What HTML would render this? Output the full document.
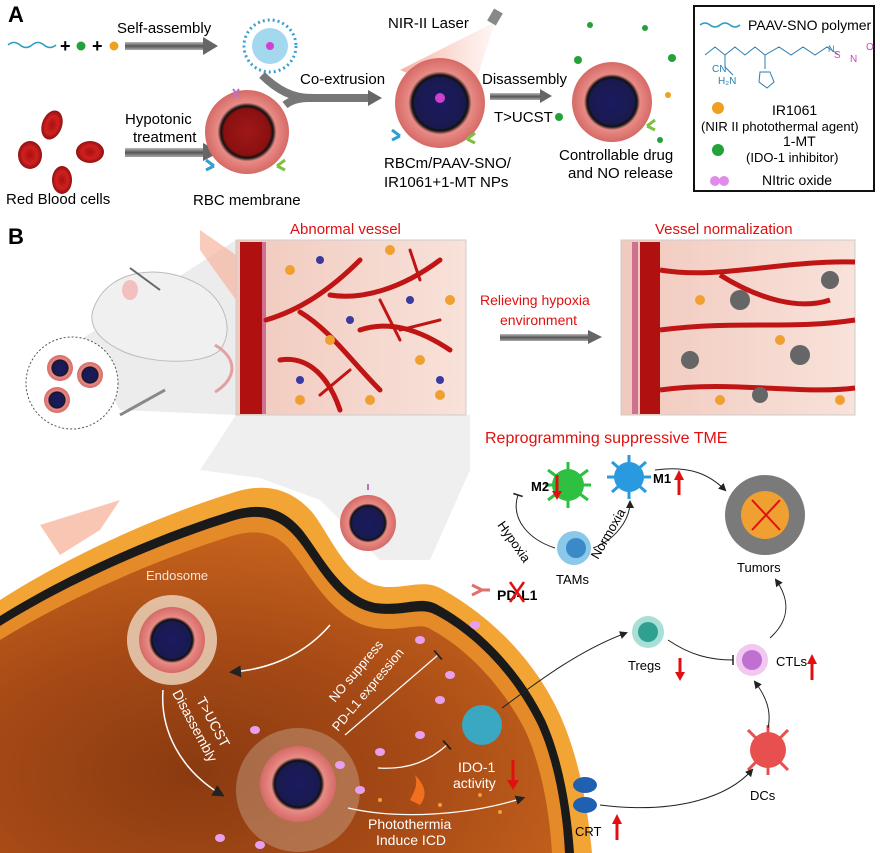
<!DOCTYPE html>
<html><head><meta charset="utf-8"><style>
html,body{margin:0;padding:0;background:#fff;}
svg{display:block;font-family:"Liberation Sans",Arial,sans-serif;}
</style></head><body>
<svg width="880" height="853" viewBox="0 0 880 853" xmlns="http://www.w3.org/2000/svg">
<defs>
<radialGradient id="cellg" cx="0.35" cy="0.75" r="0.8">
<stop offset="0" stop-color="#8a3a10"/><stop offset="0.5" stop-color="#a64a16"/><stop offset="1" stop-color="#c9651d"/>
</radialGradient>
<radialGradient id="np" cx="0.5" cy="0.5" r="0.5">
<stop offset="0" stop-color="#1a1a60"/><stop offset="0.55" stop-color="#1a1a50"/><stop offset="0.62" stop-color="#111"/><stop offset="0.7" stop-color="#e98b86"/><stop offset="1" stop-color="#d56a66"/>
</radialGradient>
<radialGradient id="rbcm" cx="0.5" cy="0.5" r="0.5">
<stop offset="0" stop-color="#a01818"/><stop offset="0.55" stop-color="#8a1010"/><stop offset="0.62" stop-color="#111"/><stop offset="0.7" stop-color="#e98b86"/><stop offset="1" stop-color="#d56a66"/>
</radialGradient>
<radialGradient id="rbc" cx="0.5" cy="0.5" r="0.5">
<stop offset="0" stop-color="#a81010"/><stop offset="0.6" stop-color="#d02020"/><stop offset="1" stop-color="#901010"/>
</radialGradient>
<linearGradient id="arr" x1="0" x2="0" y1="0" y2="1"><stop offset="0" stop-color="#bbb"/><stop offset="0.5" stop-color="#555"/><stop offset="1" stop-color="#aaa"/></linearGradient>
<linearGradient id="vess" x1="0" x2="1"><stop offset="0" stop-color="#f1c9bd"/><stop offset="1" stop-color="#f8e2da"/></linearGradient>
<linearGradient id="beam" x1="0" x2="1" y1="0" y2="0"><stop offset="0" stop-color="#f06a50" stop-opacity="0.9"/><stop offset="1" stop-color="#f8b0a0" stop-opacity="0.2"/></linearGradient>
<marker id="ah" markerWidth="8" markerHeight="8" refX="6" refY="4" orient="auto"><path d="M0,0 L8,4 L0,8z" fill="#222"/></marker>
<marker id="tb" markerWidth="4" markerHeight="10" refX="2" refY="5" orient="auto"><path d="M2,0 L2,10" stroke="#222" stroke-width="1.5"/></marker>
</defs>

<!-- Panel A -->
<text x="8" y="22" font-size="22" font-weight="bold">A</text>
<path d="M8,45 q6,-5 12,0 t12,0 t12,0 t12,0" fill="none" stroke="#2a9fc0" stroke-width="1.5"/>
<text x="60" y="52" font-size="18" font-weight="bold">+</text>
<circle cx="81" cy="46" r="4.5" fill="#22a33a"/>
<text x="92" y="52" font-size="18" font-weight="bold">+</text>
<circle cx="114" cy="46" r="4.5" fill="#f0a020"/>
<text x="117" y="33" font-size="15">Self-assembly</text>
<rect x="125" y="42" width="80" height="8" fill="url(#arr)"/><path d="M203,37 L218,46 L203,55z" fill="#666"/>
<circle cx="270" cy="46" r="26" fill="none" stroke="#3aa0d0" stroke-width="3" stroke-dasharray="2 3"/>
<circle cx="270" cy="46" r="18" fill="#7cc8e8" opacity="0.7"/><circle cx="270" cy="46" r="4" fill="#d040d0"/>
<ellipse cx="52" cy="125" rx="10" ry="15" fill="url(#rbc)" transform="rotate(20 52 125)"/>
<ellipse cx="30" cy="155" rx="12" ry="14" fill="url(#rbc)"/>
<ellipse cx="90" cy="152" rx="14" ry="11" fill="url(#rbc)"/>
<ellipse cx="62" cy="180" rx="10" ry="14" fill="url(#rbc)"/>
<text x="6" y="204" font-size="15">Red Blood cells</text>
<text x="125" y="124" font-size="15">Hypotonic</text><text x="133" y="142" font-size="15">treatment</text>
<rect x="125" y="148" width="80" height="9" fill="url(#arr)"/><path d="M203,143 L220,152 L203,161z" fill="#666"/>
<circle cx="247" cy="132" r="42" fill="url(#rbcm)"/>
<path d="M233,97 l6,-8 m0,8 l-6,-8" stroke="#c070c0" stroke-width="2"/>
<path d="M206,160 l8,6 m-8,4 l8,-4" stroke="#30a0d0" stroke-width="3"/>
<path d="M285,160 l-8,6 m8,4 l-8,-4" stroke="#80c040" stroke-width="3"/>
<text x="193" y="205" font-size="15">RBC membrane</text>
<path d="M262,75 Q285,98 310,98 L370,98" stroke="#777" stroke-width="8" fill="none"/>
<path d="M285,105 Q295,97 315,98" stroke="#777" stroke-width="8" fill="none"/>
<path d="M368,90 L382,98 L368,106z" fill="#666"/>
<text x="300" y="84" font-size="15">Co-extrusion</text>
<text x="388" y="28" font-size="15">NIR-II Laser</text>
<polygon points="495,22 400,70 470,100" fill="url(#beam)" opacity="0.6"/>
<rect x="490" y="10" width="10" height="14" fill="#888" transform="rotate(30 495 17)"/>
<circle cx="440" cy="103" r="45" fill="url(#np)"/>
<circle cx="440" cy="98" r="5" fill="#d040d0"/>
<path d="M392,130 l8,6 m-8,4 l8,-4" stroke="#30a0d0" stroke-width="3"/>
<path d="M475,133 l-8,6 m8,4 l-8,-4" stroke="#80c040" stroke-width="3"/>
<text x="384" y="168" font-size="15">RBCm/PAAV-SNO/</text>
<text x="384" y="187" font-size="15">IR1061+1-MT NPs</text>
<text x="482" y="84" font-size="15">Disassembly</text>
<rect x="490" y="93" width="52" height="7" fill="url(#arr)"/><path d="M540,89 L552,96 L540,103z" fill="#666"/>
<text x="494" y="122" font-size="15">T&gt;UCST</text><circle cx="559" cy="117" r="4" fill="#22a33a"/>
<circle cx="612" cy="102" r="40" fill="url(#np)"/>
<circle cx="590" cy="25" r="3" fill="#22a33a"/><circle cx="645" cy="28" r="3" fill="#22a33a"/><circle cx="578" cy="60" r="4" fill="#22a33a"/><circle cx="672" cy="58" r="4" fill="#22a33a"/><circle cx="668" cy="95" r="3" fill="#f0a020"/><circle cx="660" cy="140" r="3" fill="#22a33a"/>
<path d="M655,120 l-8,6 m8,4 l-8,-4" stroke="#80c040" stroke-width="3"/>
<text x="559" y="160" font-size="15">Controllable drug</text>
<text x="568" y="178" font-size="15">and NO release</text>
<rect x="694" y="6" width="180" height="185" fill="#fff" stroke="#111" stroke-width="2"/>
<path d="M700,25 q5,-4 10,0 t10,0 t10,0 t10,0" fill="none" stroke="#2a9fc0" stroke-width="1.5"/>
<text x="748" y="30" font-size="14">PAAV-SNO polymer</text>
<g stroke="#2a7fb0" fill="none" stroke-width="1">
<path d="M705,55 l10,-8 l10,8 l10,-8 l10,8 l10,-8 l10,8 l14,-8 l12,8 l12,-8 l12,8 l12,-8 l12,8"/>
<path d="M725,55 l0,12 l8,8"/><path d="M765,55 l0,14"/>
<path d="M760,72 l10,0 l4,10 l-7,6 l-8,-6z"/>
</g>
<text x="712" y="72" font-size="10" fill="#2a7fb0">CN</text>
<text x="718" y="84" font-size="10" fill="#2a7fb0">H₂N</text>
<text x="834" y="58" font-size="10" fill="#d040c0">S</text><text x="850" y="62" font-size="10" fill="#d040c0">N</text><text x="866" y="50" font-size="10" fill="#d040c0">O</text>
<text x="828" y="52" font-size="9" fill="#2a7fb0">N</text>
<circle cx="718" cy="108" r="6" fill="#f0a020"/>
<text x="772" y="115" font-size="14">IR1061</text>
<text x="701" y="131" font-size="13">(NIR II photothermal agent)</text>
<circle cx="718" cy="150" r="6" fill="#22a33a"/>
<text x="783" y="146" font-size="14">1-MT</text>
<text x="746" y="162" font-size="13">(IDO-1 inhibitor)</text>
<circle cx="715" cy="181" r="5" fill="#e08be8"/><circle cx="724" cy="181" r="5" fill="#e08be8"/>
<text x="762" y="185" font-size="14">NItric oxide</text>

<!-- Panel B -->
<text x="8" y="244" font-size="22" font-weight="bold">B</text>
<polygon points="80,340 236,240 236,415 120,410" fill="#ececec"/>
<path d="M236,415 L470,415 L470,470 L430,560 L380,560 L320,500 L260,478 L200,470z" fill="#efefef"/>
<path d="M200,230 L236,255 L236,300 L200,250z" fill="#f5b5a0" opacity="0.7"/>
<path d="M95,305 C110,270 160,262 200,285 C225,300 235,330 220,350 C205,365 150,365 120,350 C100,340 85,325 95,305z" fill="#f0f0f0" stroke="#bbb"/>
<path d="M215,345 C240,360 235,380 215,392" fill="none" stroke="#e3a0a0" stroke-width="3"/>
<ellipse cx="130" cy="290" rx="8" ry="10" fill="#f3c0c0"/>
<line x1="130" y1="268" x2="160" y2="290" stroke="#666" stroke-width="2"/>
<circle cx="72" cy="383" r="46" fill="#fff" stroke="#555" stroke-dasharray="2 2"/>
<circle cx="60" cy="368" r="13" fill="url(#np)"/><circle cx="90" cy="375" r="13" fill="url(#np)"/><circle cx="57" cy="400" r="13" fill="url(#np)"/>
<line x1="120" y1="415" x2="165" y2="390" stroke="#888" stroke-width="3"/>
<text x="290" y="234" font-size="15" fill="#e01010">Abnormal vessel</text>
<text x="655" y="234" font-size="15" fill="#e01010">Vessel normalization</text>
<rect x="236" y="240" width="230" height="175" fill="url(#vess)" stroke="#ccc"/>
<rect x="240" y="242" width="22" height="172" fill="#b01010"/>
<rect x="262" y="242" width="4" height="172" fill="#d07090"/>
<g stroke="#c01515" fill="none" stroke-linecap="round">
<path d="M266,320 C300,310 330,290 360,260 M300,312 C330,330 350,360 380,390 M330,295 C360,300 400,290 440,260 M360,330 C390,320 420,330 450,350 M280,360 C310,355 330,380 340,410" stroke-width="5"/>
<path d="M380,300 L400,340 M420,280 L410,250 M350,370 L320,395 M400,330 L440,320" stroke-width="3"/>
</g>
<g fill="#f0a030"><circle cx="290" cy="270" r="5"/><circle cx="420" cy="360" r="5"/><circle cx="450" cy="300" r="5"/><circle cx="300" cy="400" r="5"/><circle cx="370" cy="400" r="5"/><circle cx="440" cy="395" r="5"/><circle cx="330" cy="340" r="5"/><circle cx="390" cy="250" r="5"/></g>
<g fill="#3a3aa0"><circle cx="320" cy="260" r="4"/><circle cx="350" cy="320" r="4"/><circle cx="410" cy="300" r="4"/><circle cx="300" cy="380" r="4"/><circle cx="440" cy="380" r="4"/></g>
<text x="480" y="305" font-size="14" fill="#e01010">Relieving hypoxia</text>
<text x="500" y="325" font-size="14" fill="#e01010">environment</text>
<rect x="500" y="334" width="90" height="7" fill="url(#arr)"/><path d="M588,330 L602,337 L588,344z" fill="#666"/>
<rect x="621" y="240" width="234" height="175" fill="url(#vess)" stroke="#ccc"/>
<rect x="640" y="242" width="20" height="172" fill="#b01010"/>
<rect x="632" y="242" width="6" height="172" fill="#d07090"/>
<g stroke="#c01515" fill="none" stroke-width="5"><path d="M660,270 C720,280 780,260 855,262"/><path d="M660,330 C740,320 790,330 855,320"/><path d="M660,390 C730,380 800,395 855,388"/><path d="M720,275 C760,300 800,310 830,300"/></g>
<g fill="#666"><circle cx="740" cy="300" r="10"/><circle cx="800" cy="355" r="10"/><circle cx="690" cy="360" r="9"/><circle cx="830" cy="280" r="9"/><circle cx="760" cy="395" r="8"/></g>
<g fill="#f0a030"><circle cx="700" cy="300" r="5"/><circle cx="780" cy="340" r="5"/><circle cx="840" cy="400" r="5"/><circle cx="720" cy="400" r="5"/></g>

<text x="485" y="443" font-size="16" fill="#e01010">Reprogramming suppressive TME</text>

<!-- big cell -->
<path d="M0,600 C70,555 160,515 235,492 C268,482 292,490 312,512 C330,535 345,575 375,585 C400,592 420,578 440,588 C480,610 530,650 560,715 C580,760 588,810 592,853 L0,853z" fill="#f2a535"/>
<path d="M0,616 C70,572 160,533 235,510 C265,502 285,510 302,530 C322,555 340,595 375,603 C405,607 420,595 438,605 C475,625 518,665 545,720 C563,760 571,810 574,853 L0,853z" fill="#1a1a1a"/>
<path d="M0,626 C70,582 160,543 235,520 C263,512 282,520 298,540 C318,565 336,605 375,613 C405,617 420,606 436,615 C472,634 512,672 538,725 C555,762 563,812 565,853 L0,853z" fill="#e58a28"/>
<path d="M0,640 C70,597 160,558 235,535 C262,528 280,535 294,555 C314,580 333,620 375,628 C405,632 420,621 432,630 C465,648 502,684 526,732 C542,768 550,815 552,853 L0,853z" fill="url(#cellg)"/>
<path d="M40,525 L120,500 L100,530 L60,555z" fill="#f5a080" opacity="0.6"/>
<circle cx="368" cy="523" r="28" fill="url(#np)"/>
<path d="M368,490 l0,-6" stroke="#c070c0" stroke-width="2"/>
<circle cx="172" cy="640" r="45" fill="#ead0b8" opacity="0.85"/>
<circle cx="172" cy="640" r="33" fill="url(#np)"/>
<text x="146" y="580" font-size="13" fill="#f6e6d6">Endosome</text>
<path d="M330,625 C300,660 260,670 232,672" stroke="#fff" stroke-width="1.5" fill="none" marker-end="url(#ah)"/>
<path d="M163,690 C160,730 180,770 222,795" stroke="#fff" stroke-width="1.5" fill="none" marker-end="url(#ah)"/>
<text font-size="14" fill="#fff" transform="translate(196,700) rotate(62)">T&gt;UCST</text>
<text font-size="14" fill="#fff" transform="translate(172,693) rotate(62)">Disassembly</text>
<text font-size="13" fill="#fff" transform="translate(335,703) rotate(-50)">NO suppress</text>
<text font-size="13" fill="#fff" transform="translate(338,732) rotate(-50)">PD-L1 expression</text>
<path d="M345,735 L438,655" stroke="#fff" stroke-width="1.2" marker-end="url(#tb)"/>
<circle cx="298" cy="790" r="62" fill="#d8c4b0" opacity="0.35"/>
<circle cx="298" cy="784" r="38" fill="url(#np)"/>
<g fill="#e7a0ee"><ellipse cx="255" cy="730" rx="5" ry="4"/><ellipse cx="340" cy="765" rx="5" ry="4"/><ellipse cx="360" cy="790" rx="5" ry="4"/><ellipse cx="220" cy="838" rx="5" ry="4"/><ellipse cx="440" cy="700" rx="5" ry="4"/><ellipse cx="420" cy="735" rx="5" ry="4"/><ellipse cx="380" cy="752" rx="5" ry="4"/><ellipse cx="260" cy="845" rx="5" ry="4"/><ellipse cx="420" cy="640" rx="5" ry="4"/><ellipse cx="450" cy="675" rx="5" ry="4"/><ellipse cx="475" cy="625" rx="5" ry="4"/></g>
<circle cx="482" cy="725" r="20" fill="#3aa8c0"/>
<path d="M378,768 C410,770 430,760 447,745" stroke="#fff" stroke-width="1.2" fill="none" marker-end="url(#tb)"/>
<text x="458" y="772" font-size="14" fill="#fff">IDO-1</text>
<text x="453" y="788" font-size="14" fill="#fff">activity</text>
<path d="M513,760 L513,785" stroke="#e01010" stroke-width="3"/><path d="M507,780 L513,790 L519,780z" fill="#e01010"/>
<path d="M410,800 C415,790 418,785 415,775 C425,785 428,795 420,805z" fill="#f07020"/>
<path d="M348,808 C400,820 470,815 523,798" stroke="#fff" stroke-width="1.2" fill="none" marker-end="url(#ah)"/>
<text x="368" y="829" font-size="14" fill="#fff">Photothermia</text>
<text x="376" y="845" font-size="14" fill="#fff">Induce ICD</text>
<g fill="#f0a030"><circle cx="380" cy="800" r="2"/><circle cx="440" cy="805" r="2"/><circle cx="480" cy="795" r="2"/><circle cx="500" cy="812" r="2"/></g>
<path d="M472,585 l10,5 m-10,5 l10,-5 l8,0" stroke="#e07070" stroke-width="3" fill="none"/>
<text x="497" y="600" font-size="14" font-weight="bold">PD-L1</text>
<path d="M510,582 l14,20 m0,-20 l-14,20" stroke="#e01010" stroke-width="2.5"/>

<!-- right immune -->
<circle cx="568" cy="485" r="16" fill="#2ec040"/>
<g stroke="#2ec040" stroke-width="3"><path d="M548,470 L588,500 M588,470 L548,500 M568,462 L568,508 M545,485 L591,485"/></g>
<text x="531" y="491" font-size="13" font-weight="bold">M2</text>
<path d="M557,475 L557,494" stroke="#e01010" stroke-width="3"/><path d="M552,491 L557,500 L562,491z" fill="#e01010"/>
<circle cx="629" cy="477" r="15" fill="#2a9ae0"/>
<g stroke="#2a9ae0" stroke-width="3"><path d="M612,462 L646,492 M646,462 L612,492 M629,455 L629,499 M607,477 L651,477"/></g>
<text x="653" y="483" font-size="13" font-weight="bold">M1</text>
<path d="M679,495 L679,478" stroke="#e01010" stroke-width="3"/><path d="M674,480 L679,470 L684,480z" fill="#e01010"/>
<circle cx="574" cy="548" r="17" fill="#8cc8ea"/><circle cx="576" cy="548" r="10" fill="#3a8ac8"/>
<text x="556" y="584" font-size="13">TAMs</text>
<path d="M555,548 C530,540 510,520 518,495" stroke="#222" fill="none" marker-end="url(#tb)"/>
<path d="M593,548 C615,540 630,520 630,502" stroke="#222" fill="none" marker-end="url(#ah)"/>
<text font-size="13" transform="translate(497,525) rotate(55)">Hypoxia</text>
<text font-size="13" transform="translate(598,560) rotate(-60)">Normoxia</text>
<path d="M655,470 C690,465 710,475 725,490" stroke="#222" fill="none" marker-end="url(#ah)"/>
<g><circle cx="765" cy="515" r="40" fill="#7a7a7a"/><circle cx="765" cy="515" r="24" fill="#f0a030"/><path d="M752,500 L780,530 M780,500 L752,530" stroke="#e01010" stroke-width="2"/></g>
<text x="737" y="572" font-size="13">Tumors</text>
<circle cx="648" cy="632" r="16" fill="#a8e0d8"/><circle cx="648" cy="632" r="10" fill="#30a090"/>
<text x="628" y="670" font-size="13">Tregs</text>
<path d="M680,658 L680,675" stroke="#e01010" stroke-width="3"/><path d="M675,672 L680,681 L685,672z" fill="#e01010"/>
<circle cx="752" cy="660" r="16" fill="#f0c8f0"/><circle cx="752" cy="660" r="10" fill="#c070d0"/>
<text x="776" y="666" font-size="13">CTLs</text>
<path d="M812,680 L812,662" stroke="#e01010" stroke-width="3"/><path d="M807,664 L812,654 L817,664z" fill="#e01010"/>
<path d="M770,638 C790,620 790,600 776,580" stroke="#222" fill="none" marker-end="url(#ah)"/>
<path d="M668,640 C690,655 710,660 733,660" stroke="#222" fill="none" marker-end="url(#tb)"/>
<path d="M502,708 C540,680 580,650 626,633" stroke="#222" fill="none" marker-end="url(#ah)"/>
<circle cx="768" cy="750" r="18" fill="#e85050"/>
<g stroke="#e85050" stroke-width="3"><path d="M748,730 L788,770 M788,730 L748,770 M768,725 L768,775"/></g>
<text x="750" y="800" font-size="13">DCs</text>
<path d="M768,728 C772,710 765,695 755,682" stroke="#222" fill="none" marker-end="url(#ah)"/>
<path d="M600,805 C680,815 730,795 752,770" stroke="#222" fill="none" marker-end="url(#ah)"/>
<ellipse cx="585" cy="785" rx="12" ry="8" fill="#2060b0"/><ellipse cx="585" cy="805" rx="12" ry="8" fill="#2060b0"/>
<text x="575" y="836" font-size="13">CRT</text>
<path d="M617,840 L617,822" stroke="#e01010" stroke-width="3"/><path d="M612,824 L617,814 L622,824z" fill="#e01010"/>
</svg>
</body></html>
